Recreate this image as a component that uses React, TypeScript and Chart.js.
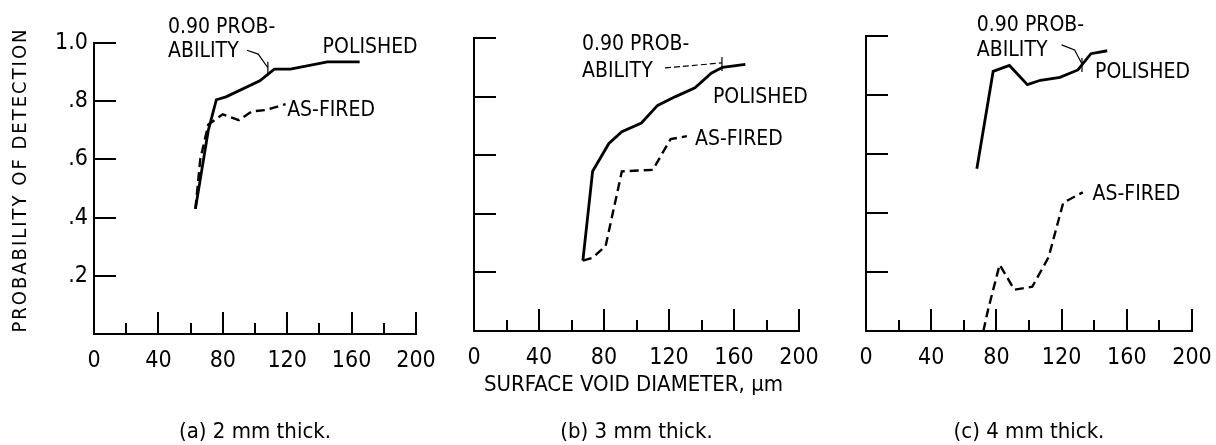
import React, { useEffect, useRef } from "react";
import { Chart, registerables } from "chart.js";

Chart.register(...registerables);

// ---------------- data ----------------
const xTickLabelValues = [0, 40, 80, 120, 160, 200];
const yTickLabels = ["", ".2", ".4", ".6", ".8", "1.0"];

// (a) 2 mm thick
const polishedA_x = [63, 71, 76, 82, 103, 112, 122, 145, 165];
const polishedA_y = [0.43, 0.7, 0.805, 0.815, 0.87, 0.91, 0.91, 0.935, 0.935];
const firedA_x = [63, 66, 71, 80, 90, 98, 107, 119];
const firedA_y = [0.43, 0.6, 0.72, 0.755, 0.735, 0.765, 0.77, 0.79];

// (b) 3 mm thick
const polishedB_x = [67, 73, 83, 91, 103, 113, 124, 136, 146, 153, 167];
const polishedB_y = [0.24, 0.545, 0.64, 0.68, 0.71, 0.77, 0.8, 0.83, 0.88, 0.9, 0.91];
const firedB_x = [67, 73, 81, 91, 110, 121, 131];
const firedB_y = [0.24, 0.25, 0.29, 0.545, 0.55, 0.655, 0.665];

// (c) 4 mm thick
const polishedC_x = [68, 78, 88, 99, 107, 119, 130, 138, 148];
const polishedC_y = [0.55, 0.88, 0.9, 0.835, 0.85, 0.86, 0.885, 0.94, 0.95];
const firedC_x = [72, 75, 82, 91, 102, 112, 121, 133];
const firedC_y = [0, 0.075, 0.225, 0.14, 0.15, 0.25, 0.435, 0.47];

const yTitle = "PROBABILITY OF DETECTION";
const xTitle = "SURFACE VOID DIAMETER, \u00b5m";
const captions = ["(a) 2 mm thick.", "(b) 3 mm thick.", "(c) 4 mm thick."];

// ---------------- layout / style ----------------
const W = 1216;
const H = 445;
const FONT = '"DejaVu Sans Condensed", "Liberation Sans Narrow", sans-serif';

type Txt = { text: string; x: number; y: number };
type Panel = {
  area: { l: number; t: number; r: number; b: number };
  px: number[]; py: number[]; fx: number[]; fy: number[];
  labels: Txt[];
  leader: { x: number; y: number }[];
  leaderDashed: boolean;
  showY: boolean;
  caption: string;
};

const panels: Panel[] = [
  {
    area: { l: 94, t: 43, r: 416, b: 334 },
    px: polishedA_x, py: polishedA_y, fx: firedA_x, fy: firedA_y,
    labels: [
      { text: "0.90 PROB-", x: 46, y: 1.034 },
      { text: "ABILITY", x: 46, y: 0.952 },
      { text: "POLISHED", x: 142, y: 0.966 },
      { text: "AS-FIRED", x: 120, y: 0.75 },
    ],
    leader: [{ x: 95, y: 0.975 }, { x: 102, y: 0.962 }, { x: 108, y: 0.915 }],
    leaderDashed: false,
    showY: true,
    caption: captions[0],
  },
  {
    area: { l: 474, t: 38, r: 799, b: 331 },
    px: polishedB_x, py: polishedB_y, fx: firedB_x, fy: firedB_y,
    labels: [
      { text: "0.90 PROB-", x: 66.5, y: 0.959 },
      { text: "ABILITY", x: 66.5, y: 0.867 },
      { text: "POLISHED", x: 147, y: 0.778 },
      { text: "AS-FIRED", x: 136, y: 0.635 },
    ],
    leader: [{ x: 117.5, y: 0.898 }, { x: 152.6, y: 0.915 }],
    leaderDashed: true,
    showY: false,
    caption: captions[1],
  },
  {
    area: { l: 866, t: 36, r: 1192, b: 331 },
    px: polishedC_x, py: polishedC_y, fx: firedC_x, fy: firedC_y,
    labels: [
      { text: "0.90 PROB-", x: 68, y: 1.017 },
      { text: "ABILITY", x: 68, y: 0.932 },
      { text: "POLISHED", x: 140.5, y: 0.858 },
      { text: "AS-FIRED", x: 139, y: 0.444 },
    ],
    leader: [{ x: 120, y: 0.97 }, { x: 128, y: 0.953 }, { x: 132.5, y: 0.905 }],
    leaderDashed: false,
    showY: false,
    caption: captions[2],
  },
];

function zip(xs: number[], ys: number[]) {
  return xs.map((x, i) => ({ x, y: ys[i] }));
}

function makeChart(canvas: HTMLCanvasElement, p: Panel, idx: number) {
  const decor = {
    id: "decor" + idx,
    afterDraw(chart: any) {
      const ctx = chart.ctx as CanvasRenderingContext2D;
      const xs = chart.scales.x;
      const ys = chart.scales.y;
      const { left, bottom, right } = chart.chartArea;
      ctx.save();
      ctx.strokeStyle = "#000";
      ctx.fillStyle = "#000";
      ctx.lineWidth = 2;
      // inward y ticks
      ys.ticks.forEach((t: any) => {
        if (t.value <= 0) return;
        const y = Math.round(ys.getPixelForValue(t.value));
        ctx.beginPath();
        ctx.moveTo(left, y);
        ctx.lineTo(left + 22, y);
        ctx.stroke();
      });
      // inward x ticks
      xs.ticks.forEach((t: any) => {
        if (t.value <= 0) return;
        const x = Math.round(xs.getPixelForValue(t.value));
        const len = t.value % 40 === 0 ? 22 : 11;
        ctx.beginPath();
        ctx.moveTo(x, bottom);
        ctx.lineTo(x, bottom - len);
        ctx.stroke();
      });
      // curve labels
      ctx.font = `21px ${FONT}`;
      ctx.textAlign = "left";
      ctx.textBaseline = "alphabetic";
      p.labels.forEach((l) => {
        ctx.fillText(l.text, xs.getPixelForValue(l.x), ys.getPixelForValue(l.y));
      });
      // leader line
      ctx.lineWidth = 1.2;
      ctx.setLineDash(p.leaderDashed ? [6, 3] : []);
      ctx.beginPath();
      p.leader.forEach((pt, i) => {
        const X = xs.getPixelForValue(pt.x);
        const Y = ys.getPixelForValue(pt.y);
        if (i === 0) ctx.moveTo(X, Y);
        else ctx.lineTo(X, Y);
      });
      ctx.stroke();
      ctx.setLineDash([]);
      const last = p.leader[p.leader.length - 1];
      const lx = xs.getPixelForValue(last.x);
      const ly = ys.getPixelForValue(last.y);
      ctx.beginPath();
      ctx.moveTo(lx, ly - 6);
      ctx.lineTo(lx, ly + 8);
      ctx.stroke();
      // titles
      if (p.showY) {
        ctx.save();
        ctx.font = `20px ${FONT}`;
        (ctx as any).letterSpacing = "2px";
        ctx.textAlign = "center";
        ctx.textBaseline = "middle";
        ctx.translate(21, 180);
        ctx.rotate(-Math.PI / 2);
        ctx.fillText(yTitle, 0, 0);
        ctx.restore();
      }
      if (idx === 1) {
        ctx.font = `22px ${FONT}`;
        ctx.textAlign = "center";
        ctx.textBaseline = "middle";
        ctx.fillText(xTitle, (left + right) / 2 - 3, 385);
      }
      ctx.font = `22px ${FONT}`;
      ctx.textAlign = "center";
      ctx.textBaseline = "middle";
      ctx.fillText(p.caption, (left + right) / 2, 432);
      ctx.restore();
    },
  };

  const zeroPad = (s: any) => {
    s.paddingLeft = 0;
    s.paddingRight = 0;
    s.paddingTop = 0;
    s.paddingBottom = 0;
  };

  return new Chart(canvas, {
    type: "line",
    data: {
      datasets: [
        {
          label: "POLISHED",
          data: zip(p.px, p.py),
          borderColor: "#000",
          borderWidth: 2.8,
          pointRadius: 0,
          tension: 0,
          fill: false,
        },
        {
          label: "AS-FIRED",
          data: zip(p.fx, p.fy),
          borderColor: "#000",
          borderWidth: 2.4,
          borderDash: [9, 5],
          pointRadius: 0,
          tension: 0,
          fill: false,
        },
      ],
    },
    options: {
      responsive: false,
      animation: false,
      devicePixelRatio: 1,
      layout: {
        padding: { left: 0, top: p.area.t, right: W - p.area.r, bottom: 0 },
      },
      plugins: { legend: { display: false }, tooltip: { enabled: false }, title: { display: false } },
      scales: {
        x: {
          type: "linear",
          min: 0,
          max: 200,
          grid: { display: false, drawTicks: false },
          border: { display: true, color: "#000", width: 2 },
          ticks: {
            stepSize: 20,
            autoSkip: false,
            maxRotation: 0,
            padding: 13,
            color: "#000",
            font: { family: FONT, size: 23 },
            callback: (v: any) => (xTickLabelValues.includes(Number(v)) ? String(v) : ""),
          },
          afterFit: (s: any) => {
            s.height = H - p.area.b;
            zeroPad(s);
          },
        },
        y: {
          type: "linear",
          min: 0,
          max: 1,
          grid: { display: false, drawTicks: false },
          border: { display: true, color: "#000", width: 2 },
          ticks: {
            stepSize: 0.2,
            padding: 6,
            color: "#000",
            font: { family: FONT, size: 23 },
            callback: (_v: any, i: number) => (p.showY ? yTickLabels[i] : ""),
          },
          afterFit: (s: any) => {
            s.width = p.area.l;
            zeroPad(s);
          },
        },
      },
    },
    plugins: [decor],
  } as any);
}

export default function App() {
  const r0 = useRef<HTMLCanvasElement>(null);
  const r1 = useRef<HTMLCanvasElement>(null);
  const r2 = useRef<HTMLCanvasElement>(null);

  useEffect(() => {
    const refs = [r0, r1, r2];
    const charts = refs.map((r, i) => makeChart(r.current as HTMLCanvasElement, panels[i], i));
    return () => charts.forEach((c) => c.destroy());
  }, []);

  const cs: React.CSSProperties = { position: "absolute", left: 0, top: 0, width: W, height: H };
  return (
    <div style={{ position: "absolute", left: 0, top: 0, width: W, height: H, background: "#fff" }}>
      <canvas ref={r0} width={W} height={H} style={cs} />
      <canvas ref={r1} width={W} height={H} style={cs} />
      <canvas ref={r2} width={W} height={H} style={cs} />
    </div>
  );
}
